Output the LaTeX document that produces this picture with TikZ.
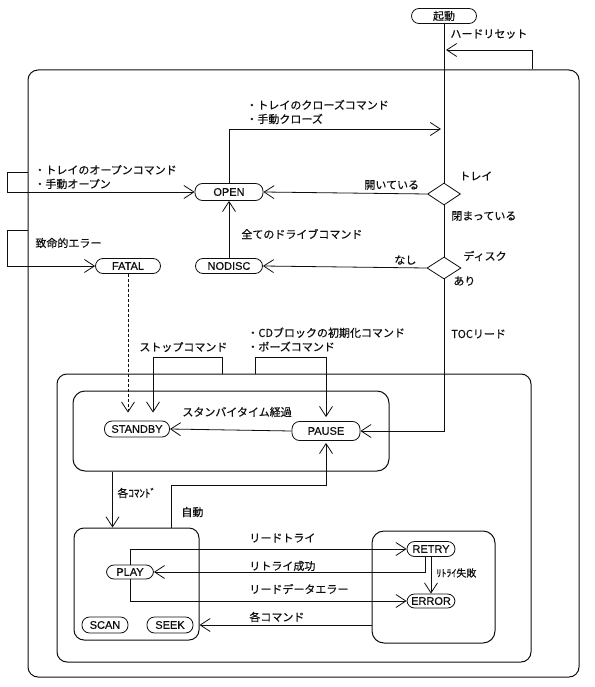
\documentclass[tikz,border=0pt]{standalone}
\usepackage{fontspec}
\setmainfont{Noto Sans CJK JP}[FakeBold=0.4]
\newfontfamily\latinsans{Liberation Sans}[FakeBold=0.5]
\usepackage{tikz}
\usetikzlibrary{shapes.geometric, arrows.meta, calc}
\definecolor{inkblack}{RGB}{15, 15, 15}

\begin{document}
\begin{tikzpicture}[x=1pt, y=-1pt, line width=0.8pt, draw=inkblack, text=inkblack,
	every node/.style={font=\fontsize{11}{14}\selectfont},
	state/.style={draw, rounded corners=7.5pt, minimum height=15pt, inner sep=1pt, font=\latinsans\fontsize{11}{12}\selectfont},
	frame/.style={draw, line width=1pt, rounded corners=10pt, inner sep=0pt},
	decision/.style={draw, diamond, inner sep=0pt, minimum width=33pt, minimum height=22pt},
	lbl/.style={anchor=west, inner sep=0pt, align=left},
	arr/.style={-{Straight Barb[length=10pt, width=13pt]}}]
	\useasboundingbox[fill=white] (0,0) rectangle (594,687);

	\node[frame, minimum width=551pt, minimum height=607pt] (outer) at (303.5,373.5) {};
	\node[frame, minimum width=474pt, minimum height=288pt] (mid) at (294,518) {};
	\node[frame, rounded corners=12pt, minimum width=316pt, minimum height=80pt] (stbox) at (231,431) {};
	\node[frame, minimum width=125pt, minimum height=112pt] (playbox) at (136.5,584) {};
	\node[frame, rounded corners=12pt, minimum width=123pt, minimum height=112pt] (errbox) at (433.5,587) {};

	\node[state, minimum width=65pt, font=\fontsize{11}{12}\selectfont] (kidou) at (444,16) {起動};
	\node[state, minimum width=68pt, minimum height=17pt] (open) at (229,192) {OPEN};
	\node[state, minimum width=65pt] (fatal) at (128,266) {FATAL};
	\node[state, minimum width=67pt] (nodisc) at (229,266) {NODISC};
	\node[decision] (tray) at (444,194) {};
	\node[decision, minimum width=34pt] (disc) at (444,268) {};
	\node[state, minimum width=65pt, minimum height=16pt] (standby) at (137,429) {STANDBY};
	\node[state, minimum width=68pt, minimum height=19pt] (pause) at (326,431) {PAUSE};
	\node[state, minimum width=47pt, minimum height=14pt] (play) at (130,572) {PLAY};
	\node[state, minimum width=46pt, minimum height=16pt] (scan) at (105,625) {SCAN};
	\node[state, minimum width=46pt, minimum height=16pt] (seek) at (170,625) {SEEK};
	\node[state, minimum width=48pt] (retry) at (431,549) {RETRY};
	\node[state, minimum width=48pt, minimum height=14pt] (error) at (431,601) {ERROR};

	\coordinate (hrin) at ($(outer.north east)+(-47,0)$);
	\coordinate (hrout) at (446,50);
	\coordinate (closeend) at (441,129);
	\coordinate (openin) at ($(outer.north west)+(0,103)$);
	\coordinate (fatalin) at ($(outer.north west)+(0,161)$);
	\coordinate (stopin) at ($(mid.north west)+(166,0)$);
	\coordinate (cdin) at ($(mid.north west)+(199,0)$);

	\draw (kidou.south) -- (tray.north);
	\draw[arr] (hrin) |- (hrout);
	\draw[arr] (open.north) |- (closeend);
	\draw[arr] (tray.west) -- (open.east);
	\draw (tray.south) -- (disc.north);
	\draw[arr] (disc.west) -- (nodisc.east);
	\draw[arr] (disc.south) |- (pause.east);
	\draw[arr] (nodisc.north) -- (open.south);
	\draw[arr] (openin) -- ++(-20,0) |- (open.west);
	\draw[arr] (fatalin) -- ++(-20,0) |- (fatal.west);
	\draw[arr, dash pattern=on 3pt off 2pt, shorten >=8pt] (fatal.south) -- (fatal.south |- standby.north);
	\draw[arr, shorten >=8pt] (stopin) -- ++(0,-16) -| ($(standby.north)+(16,0)$);
	\draw[arr, shorten >=4pt] (cdin) -- ++(0,-16) -| (pause.north);
	\draw[arr] (pause.west) -- (standby.east);
	\draw[arr] ($(stbox.south west)+(40,0)$) -- ($(playbox.north west)+(39,0)$);
	\draw[arr, shorten >=2pt] ($(playbox.north west)+(98,0)$) -- ++(0,-42) -| (pause.south);
	\draw[arr] (play.north) |- (retry.west);
	\draw[arr] ($(retry.south)+(-6,0)$) |- (play.east);
	\draw[arr] (play.south) |- (error.west);
	\draw[arr] (retry.south) -- (error.north);
	\draw[arr] (errbox.west |- seek) -- (playbox.east |- seek);

	\node[lbl] (hrlab) at (450,34) {ハードリセット};
	\node[lbl] (traylab) at (459,176) {トレイ};
	\node[lbl] (openedlab) at (364,185) {開いている};
	\node[lbl] (closedlab) at (451,216) {閉まっている};
	\node[lbl] (disclab) at (463,256) {ディスク};
	\node[lbl] (nonelab) at (394,260) {なし};
	\node[lbl] (presentlab) at (453,281) {あり};
	\node[lbl] (toclab) at (451,334) {TOCリード};
	\node[lbl] (closelab) at (246,112) {・トレイのクローズコマンド\\・手動クローズ};
	\node[lbl] (openlab) at (34,177) {・トレイのオープンコマンド\\・手動オープン};
	\node[lbl] (fatallab) at (35,243) {致命的エラー};
	\node[lbl] (drivelab) at (241,234) {全てのドライブコマンド};
	\node[lbl] (stoplab) at (139,347) {ストップコマンド};
	\node[lbl] (cdlab) at (247,339.5) {・CDブロックの初期化コマンド\\・ポーズコマンド};
	\node[lbl] (standbylab) at (182,412) {スタンバイタイム経過};
	\node[lbl] (cmdlab) at (117,493) {各ｺﾏﾝﾄﾞ};
	\node[lbl] (autolab) at (181,512) {自動};
	\node[lbl, font=\fontsize{10}{12}\selectfont] (faillab) at (436,573) {ﾘﾄﾗｲ失敗};
	\foreach \txt/\yy [count=\i] in {リードトライ/538, リトライ成功/566, リードデータエラー/589, 各コマンド/617}
		\node[lbl] (trlab\i) at (249,\yy) {\txt};
\end{tikzpicture}
\end{document}
